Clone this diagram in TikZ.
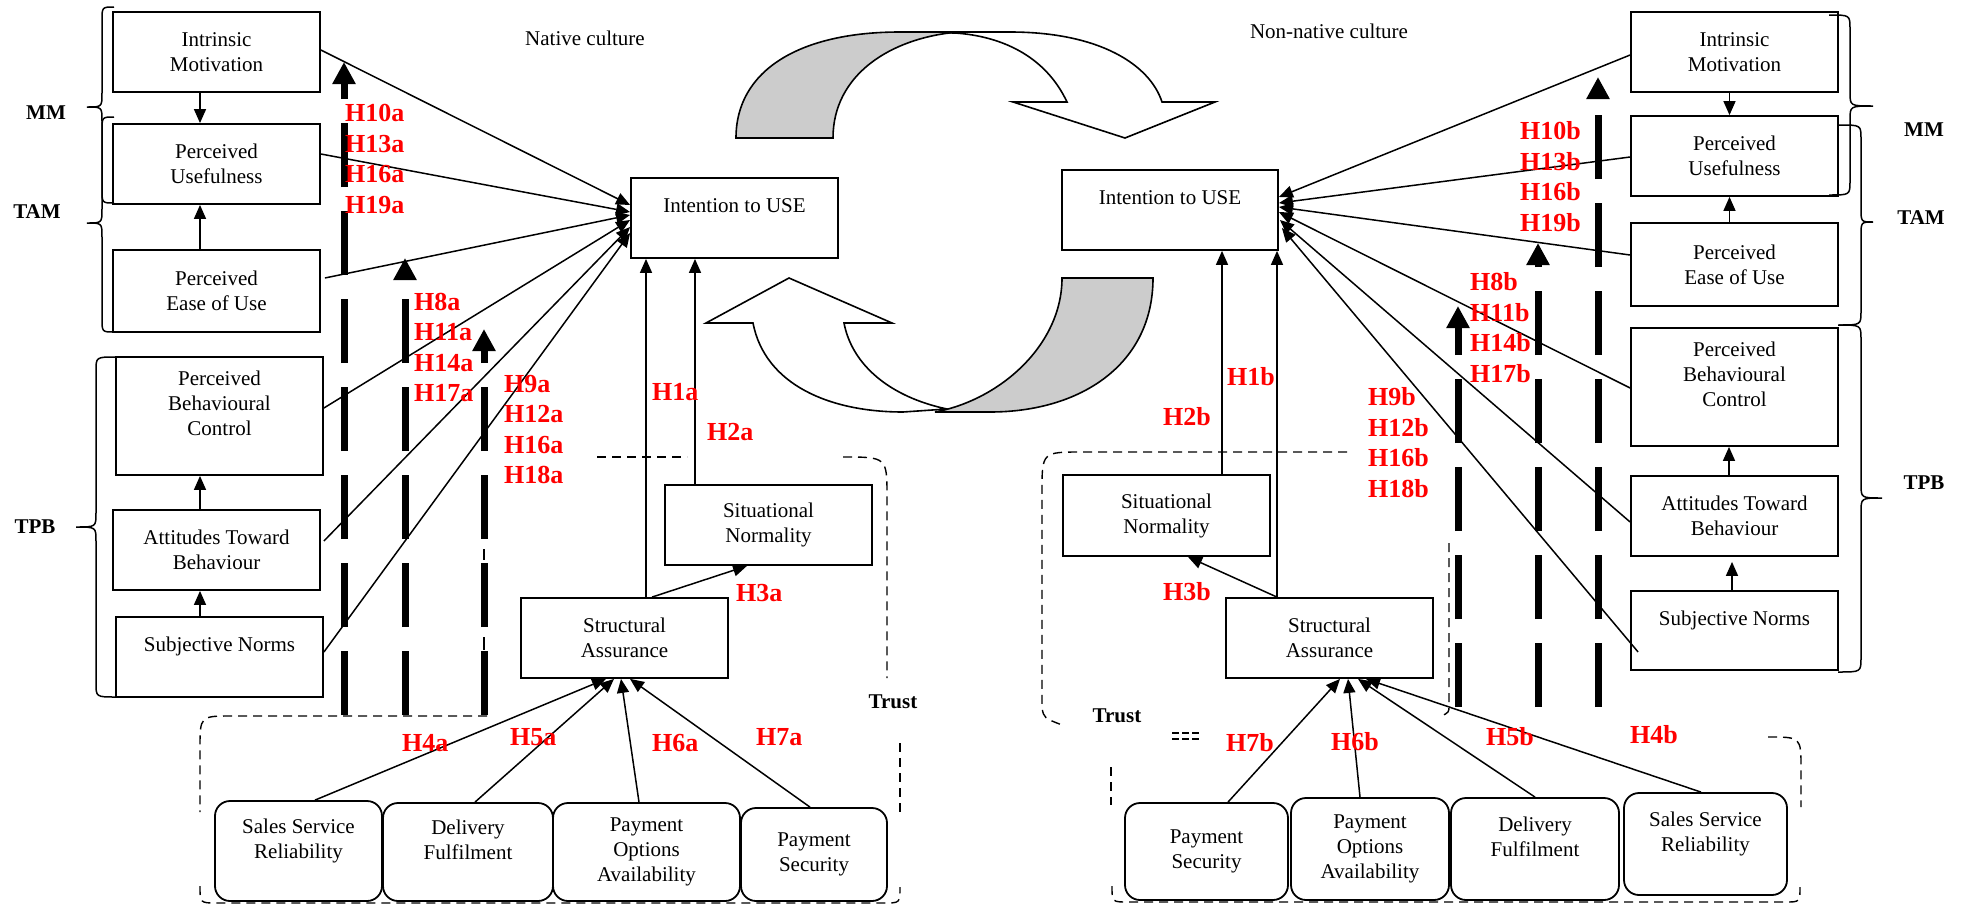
\documentclass[tikz,border=0pt]{standalone}
\usepackage{fontspec}
\setmainfont{Liberation Serif}
\usetikzlibrary{arrows.meta,calc}
\definecolor{ribbongray}{RGB}{204,204,204}
\newcommand{\bracel}[6]{%
	\draw[brc] (#1,#4) .. controls (#2,#4) .. (#2,{#4+14}) -- (#2,{#5-14}) .. controls (#2,#5) .. (#3,#5) .. controls (#2,#5) .. (#2,{#5+14}) -- (#2,{#6-14}) .. controls (#2,#6) .. (#1,#6);}

\begin{document}
\begin{tikzpicture}[
	x=1pt, y=-1pt,
	every node/.style={inner sep=0pt, font=\fontsize{21}{25}\selectfont},
	box/.style={draw, line width=1.8pt, align=center},
	rbox/.style={box, rounded corners=15pt},
	hyp/.style={anchor=west, align=left, text=red, font=\fontsize{26}{30.5}\selectfont\bfseries},
	grp/.style={font=\fontsize{21}{25}\selectfont\bfseries},
	arr/.style={line width=1.5pt, -{Triangle[length=14pt,width=12pt]}},
	thk/.style={line width=7pt, dash pattern=on 64pt off 24pt, -{Triangle[length=22pt,width=22pt]}},
	trust/.style={line width=1.4pt, dash pattern=on 9pt off 6pt},
	brc/.style={line width=1.5pt},
	ribbon/.style={draw, line width=1.6pt}
]
\useasboundingbox (0,0) rectangle (1966,905);

\foreach \cx/\ty in {344/62, 405/258, 484/329}
	\draw[thk] (\cx,715) -- (\cx,\ty);
\foreach \cx/\ty in {1458/306, 1538/243, 1598/77}
	\draw[thk] (\cx,707) -- (\cx,\ty);
\draw[line width=2.5pt] (484,549) -- (484,560) (484,637) -- (484,650);

\draw[ribbon, fill=white] (900,32) -- (1010,32) .. controls (1100,32) and (1150,65) .. (1162,102) -- (1215,102) -- (1125,138) -- (1013,102) -- (1067,102) .. controls (1045,55) and (1000,36) .. (955,33) -- cycle;
\draw[ribbon, fill=ribbongray] (736,138) .. controls (736,70) and (800,32) .. (900,32) -- (958,32) .. controls (890,38) and (833,75) .. (833,138) -- cycle;
\draw[ribbon, fill=white] (947,409) .. controls (890,397) and (852,365) .. (844,323) -- (892,323) -- (789,278) -- (706,323) -- (753,323) .. controls (765,385) and (830,412) .. (903,412) -- cycle;
\draw[ribbon, fill=ribbongray] (1062,278) -- (1153,278) .. controls (1153,365) and (1080,412) .. (990,412) -- (935,412) .. controls (1000,400) and (1062,345) .. (1062,278) -- cycle;

\node (natL) at (585,38) {Native culture};
\node[box, minimum width=207, minimum height=80] (imL) at (216.5,52) {Intrinsic\\Motivation};
\node[box, minimum width=207, minimum height=80] (puL) at (216.5,164) {Perceived\\Usefulness};
\node[box, minimum width=207, minimum height=82] (peouL) at (216.5,291) {Perceived\\Ease of Use};
\node[box, minimum width=207, minimum height=118] (pbcL) at (219.5,416) {Perceived\\Behavioural\\Control\\ \mbox{}};
\node[box, minimum width=207, minimum height=80] (atbL) at (216.5,550) {Attitudes Toward\\Behaviour};
\node[box, minimum width=207, minimum height=80] (snL) at (219.5,657) {Subjective Norms\\ \mbox{}};
\node[box, minimum width=207, minimum height=80] (iuL) at (734.5,218) {Intention to USE\\ \mbox{}};
\node[box, minimum width=207, minimum height=80] (sitL) at (768.5,525) {Situational\\Normality};
\node[box, minimum width=207, minimum height=80] (saL) at (624.5,638) {Structural\\Assurance};
\node[rbox, minimum width=167, minimum height=100] (ssrL) at (298.5,851) {Sales Service\\Reliability\\ \mbox{}};
\node[rbox, minimum width=170, minimum height=98] (dfL) at (468,852) {Delivery\\Fulfilment\\ \mbox{}};
\node[rbox, minimum width=187, minimum height=98] (poaL) at (646.5,852) {Payment\\Options\\Availability};
\node[rbox, minimum width=146, minimum height=93] (psL) at (814,854.5) {Payment\\Security};

\node (natR) at (1329,31) {Non-native culture};
\node[box, minimum width=216, minimum height=80] (iuR) at (1170,210) {Intention to USE\\ \mbox{}};
\node[box, minimum width=207, minimum height=81] (sitR) at (1166.5,515.5) {Situational\\Normality};
\node[box, minimum width=207, minimum height=80] (saR) at (1329.5,638) {Structural\\Assurance};
\node[box, minimum width=207, minimum height=80] (imR) at (1734.5,52) {Intrinsic\\Motivation};
\node[box, minimum width=207, minimum height=80] (puR) at (1734.5,156) {Perceived\\Usefulness};
\node[box, minimum width=207, minimum height=83] (peouR) at (1734.5,264.5) {Perceived\\Ease of Use};
\node[box, minimum width=207, minimum height=118] (pbcR) at (1734.5,387) {Perceived\\Behavioural\\Control\\ \mbox{}};
\node[box, minimum width=207, minimum height=80] (atbR) at (1734.5,516) {Attitudes Toward\\Behaviour};
\node[box, minimum width=207, minimum height=79] (snR) at (1734.5,630.5) {Subjective Norms\\ \mbox{}};
\node[rbox, minimum width=163, minimum height=97] (psR) at (1206.5,851.5) {Payment\\Security};
\node[rbox, minimum width=158, minimum height=102] (poaR) at (1370,849) {Payment\\Options\\Availability};
\node[rbox, minimum width=168, minimum height=102] (dfR) at (1535,849) {Delivery\\Fulfilment\\ \mbox{}};
\node[rbox, minimum width=163, minimum height=102] (ssrR) at (1705.5,844) {Sales Service\\Reliability\\ \mbox{}};

\bracel{114}{102}{87}{7}{107}{203}
\bracel{114}{102}{87}{117}{223}{332}
\bracel{116}{96}{76}{357}{527}{697}
\bracel{1829}{1850}{1873}{15}{106}{195}
\bracel{1839}{1861}{1873}{125}{222}{325}
\bracel{1838}{1861}{1882}{325}{498}{672}
\node[grp] (mmL) at (46,113) {MM};
\node[grp] (tamL) at (37,212) {TAM};
\node[grp] (tpbL) at (35,527) {TPB};
\node[grp] (mmR) at (1924,130) {MM};
\node[grp] (tamR) at (1921,218) {TAM};
\node[grp] (tpbR) at (1924,483) {TPB};
\node[grp] (trustL) at (893,702) {Trust};
\node[grp] (trustR) at (1117,716) {Trust};

\draw[trust] (597,457) -- (687,457);
\draw[trust] (843,457) .. controls (887,457) .. (887,497) -- (887,678);
\draw[trust] (487,716) -- (232,716) .. controls (200,716) .. (200,748) -- (200,812);
\draw[trust] (900,743) -- (900,812);
\draw[trust] (200,886) .. controls (200,903) .. (217,903) -- (884,903) .. controls (900,903) .. (900,887);
\draw[trust] (1347,452) -- (1082,452) .. controls (1042,452) .. (1042,492) -- (1042,708) .. controls (1044,718) .. (1062,725);
\draw[trust] (1449,543) -- (1449,706) .. controls (1449,712) .. (1442,716);
\draw[trust, dash pattern=on 7pt off 3pt] (1172,733) -- (1200,733) (1172,739) -- (1200,739);
\draw[trust] (1768,737) .. controls (1801,737) .. (1801,768) -- (1801,807);
\draw[trust] (1111,767) -- (1111,805);
\draw[trust] (1112,886) .. controls (1112,902) .. (1128,902) -- (1785,902) .. controls (1800,902) .. (1800,887);

\draw[arr] ($(imL.east)+(0,-2)$) -- ($(iuL.west)+(0,-13)$);
\draw[arr] ($(puL.east)+(0,-10)$) -- ($(iuL.west)+(0,-6)$);
\draw[arr] ($(peouL.east)+(4,-13)$) -- ($(iuL.west)+(0,-3)$);
\draw[arr] ($(pbcL.east)+(0,-8)$) -- ($(iuL.west)+(0,2)$);
\draw[arr] ($(atbL.east)+(3,-9)$) -- ($(iuL.west)+(0,9)$);
\draw[arr] ($(snL.east)+(0,-5)$) -- ($(iuL.west)+(0,15)$);
\draw[arr] ([xshift=-16.5]imL.south) -- ([xshift=-16.5]puL.north);
\draw[arr] ([xshift=-16.5]peouL.north) -- ([xshift=-16.5]puL.south);
\draw[arr] ([xshift=-16.5]atbL.north) -- ([xshift=-16.5]atbL.north |- pbcL.south);
\draw[arr] ([xshift=-19.5]snL.north) -- ([xshift=-19.5]snL.north |- atbL.south);
\draw[arr] ([xshift=21.5]saL.north) -- ([xshift=21.5]saL.north |- iuL.south);
\draw[arr] ([xshift=-73.5]sitL.north) -- ([xshift=-73.5]sitL.north |- iuL.south);
\draw[arr] ([xshift=27.5]saL.north) -- ([xshift=-21.5]sitL.south);
\draw[arr] ([xshift=16.5]ssrL.north) -- ([xshift=-18.5]saL.south);
\draw[arr] ([xshift=7]dfL.north) -- ([xshift=-10.5]saL.south);
\draw[arr] ([xshift=-7.5]poaL.north) -- ([xshift=-3.5]saL.south);
\draw[arr] ([xshift=-4]psL.north) -- ([xshift=5.5]saL.south);

\draw[arr] ($(imR.west)+(0,3)$) -- ($(iuR.east)+(0,-13)$);
\draw[arr] ($(puR.west)+(0,1)$) -- ($(iuR.east)+(0,-7)$);
\draw[arr] ($(peouR.west)+(0,-9.5)$) -- ($(iuR.east)+(0,-3)$);
\draw[arr] ($(pbcR.west)+(0,1)$) -- ($(iuR.east)+(0,2)$);
\draw[arr] ($(atbR.west)+(0,6)$) -- ($(iuR.east)+(1,10)$);
\draw[arr] ($(snR.west)+(8,21.5)$) -- ($(iuR.east)+(3,18)$);
\draw[arr] ([xshift=-5]imR.south) -- ([xshift=-5]puR.north);
\draw[arr] ([xshift=-5]peouR.north) -- ([xshift=-5]puR.south);
\draw[arr] ([xshift=-5.5]atbR.north) -- ([xshift=-5.5]atbR.north |- pbcR.south);
\draw[arr] ([xshift=-2.5]snR.north) -- ($(atbR.south)+(-2.5,5)$);
\draw[arr] ([xshift=-52.5]saR.north) -- ([xshift=-52.5]saR.north |- iuR.south);
\draw[arr] ([xshift=55.5]sitR.north) -- ([xshift=55.5]sitR.north |- iuR.south);
\draw[arr] ([xshift=-52.5]saR.north) -- ([xshift=21.5]sitR.south);
\draw[arr] ([xshift=21.5]psR.north) -- ([xshift=10.5]saR.south);
\draw[arr] ([xshift=-10]poaR.north) -- ([xshift=18.5]saR.south);
\draw[arr] (dfR.north) -- ([xshift=28.5]saR.south);
\draw[arr] ([xshift=-4.5]ssrR.north) -- ([xshift=36.5]saR.south);

\node[hyp] (hL1) at (345,159) {H10a\\H13a\\H16a\\H19a};
\node[hyp] (hL2) at (414,347.5) {H8a\\H11a\\H14a\\H17a};
\node[hyp] (hL3) at (504,429.5) {H9a\\H12a\\H16a\\H18a};
\node[hyp] (h1a) at (652,392) {H1a};
\node[hyp] (h2a) at (707,432) {H2a};
\node[hyp] (h3a) at (736,593) {H3a};
\node[hyp] (h4a) at (402,743) {H4a};
\node[hyp] (h5a) at (510,737) {H5a};
\node[hyp] (h6a) at (652,743) {H6a};
\node[hyp] (h7a) at (756,737) {H7a};
\node[hyp] (hR1) at (1520,176.5) {H10b\\H13b\\H16b\\H19b};
\node[hyp] (hR2) at (1470,327.5) {H8b\\H11b\\H14b\\H17b};
\node[hyp] (hR3) at (1368,442.5) {H9b\\H12b\\H16b\\H18b};
\node[hyp] (h1b) at (1227,377) {H1b};
\node[hyp] (h2b) at (1163,417) {H2b};
\node[hyp] (h3b) at (1163,592) {H3b};
\node[hyp] (h4b) at (1630,735) {H4b};
\node[hyp] (h5b) at (1486,737) {H5b};
\node[hyp] (h6b) at (1331,742) {H6b};
\node[hyp] (h7b) at (1226,743) {H7b};
\end{tikzpicture}
\end{document}
